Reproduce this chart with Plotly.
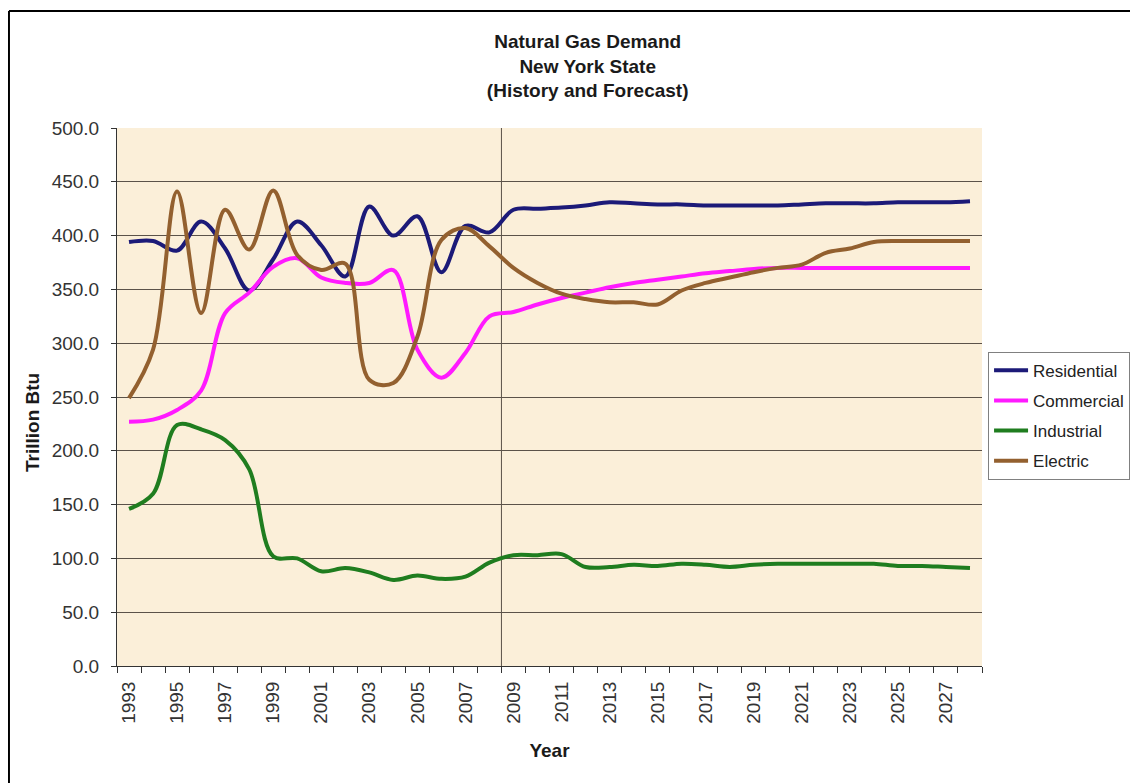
import plotly.graph_objects as go

years = list(range(1993, 2029))

residential = [394, 395, 386, 413, 388, 349, 378, 413, 391, 362, 427, 400,
               418, 366, 409, 403, 424, 425, 426, 428, 431, 430, 429, 429,
               428, 428, 428, 428, 429, 430, 430, 430, 431, 431, 431, 432]
commercial = [227, 229, 238, 256, 328, 347, 371, 379, 361, 356, 356, 368,
              294, 268, 291, 325, 329, 336, 342, 347, 352, 356, 359, 362,
              365, 367, 369, 370, 370, 370, 370, 370, 370, 370, 370, 370]
industrial = [146, 160, 224, 220, 210, 183, 102, 100, 88, 91, 87, 80,
              84, 81, 83, 96, 103, 103, 104, 92, 92, 94, 93, 95,
              94, 92, 94, 95, 95, 95, 95, 95, 93, 93, 92, 91]
electric = [249, 294, 441, 328, 424, 387, 442, 382, 368, 374, 266, 263,
            306, 396, 407, 390, 370, 356, 346, 341, 338, 338, 336, 349,
            356, 361, 366, 370, 373, 384, 388, 394, 395, 395, 395, 395]

series = [
    ("Residential", residential, "#1c1a78"),
    ("Commercial", commercial, "#ff1aff"),
    ("Industrial", industrial, "#1f7d1f"),
    ("Electric", electric, "#93602f"),
]

label_years = list(range(1993, 2028, 2))
boundaries = [y - 0.5 for y in range(1993, 2030)]
forecast_start = 2008.5

font = "Liberation Sans, Arial, sans-serif"
grid = "#5b5249"

fig = go.Figure()
for name, vals, color in series:
    fig.add_trace(go.Scatter(
        x=years, y=vals, name=name, mode="lines", legendgroup=name,
        line=dict(color=color, width=4, shape="spline", smoothing=1.0),
    ))

fig.add_shape(type="line", xref="x", yref="paper", x0=forecast_start,
              x1=forecast_start, y0=0, y1=1, layer="below",
              line=dict(color=grid, width=1))
# outer chart border: only its left and top edges are inside the crop
bx, by = -0.1249, 1.2175
fig.add_shape(type="line", xref="paper", yref="paper", x0=bx, x1=bx,
              y0=-0.3, y1=by, line=dict(color="black", width=2))
fig.add_shape(type="line", xref="paper", yref="paper", x0=bx, x1=1.3,
              y0=by, y1=by, line=dict(color="black", width=2))

fig.add_annotation(
    text="<b>Trillion Btu</b>", textangle=-90, showarrow=False,
    xref="paper", yref="paper", x=(32 - 117) / 865, y=(666 - 423) / 538,
    xanchor="center", yanchor="middle",
    font=dict(size=19, color="#1a1a1a"),
)

# page body adds an 8px offset, so the figure is 8px smaller than the window
fig.update_layout(
    width=1130, height=775,
    margin=dict(l=109, r=156, t=120, b=117, autoexpand=False),
    paper_bgcolor="white", plot_bgcolor="#fbefd9",
    font=dict(family=font, size=19, color="#333333"),
    title=dict(
        text="<b>Natural Gas Demand<br>New York State<br>(History and Forecast)</b>",
        x=0.513, xanchor="center", y=1 - 40 / 775, yanchor="top",
        font=dict(size=19, color="#1a1a1a"),
    ),
    xaxis=dict(
        range=[1992.5, 2028.5], tickvals=label_years,
        ticktext=[str(y) for y in label_years], tickangle=-90,
        ticks="", showgrid=False, zeroline=False,
        showline=True, linecolor="#333333", linewidth=1,
        ticklabelstandoff=7,
        minor=dict(tickvals=boundaries, ticks="outside", ticklen=6,
                   tickcolor="#333333", showgrid=False),
        title=dict(text="<b>Year</b>", standoff=20,
                   font=dict(size=19, color="#1a1a1a")),
    ),
    yaxis=dict(
        range=[0, 500], dtick=50, tickformat=".1f",
        showgrid=True, gridcolor=grid, gridwidth=1, zeroline=False,
        showline=True, linecolor="#333333", linewidth=1,
        ticks="outside", ticklen=5, tickcolor="#333333",
        ticklabelstandoff=8,
    ),
    legend=dict(
        x=1.007, xanchor="left", y=0.584, yanchor="top",
        bgcolor="white", bordercolor="#808080", borderwidth=1,
        font=dict(size=17, color="#222222"), tracegroupgap=5,
        itemwidth=34,
    ),
)

fig.write_html("out.html")
